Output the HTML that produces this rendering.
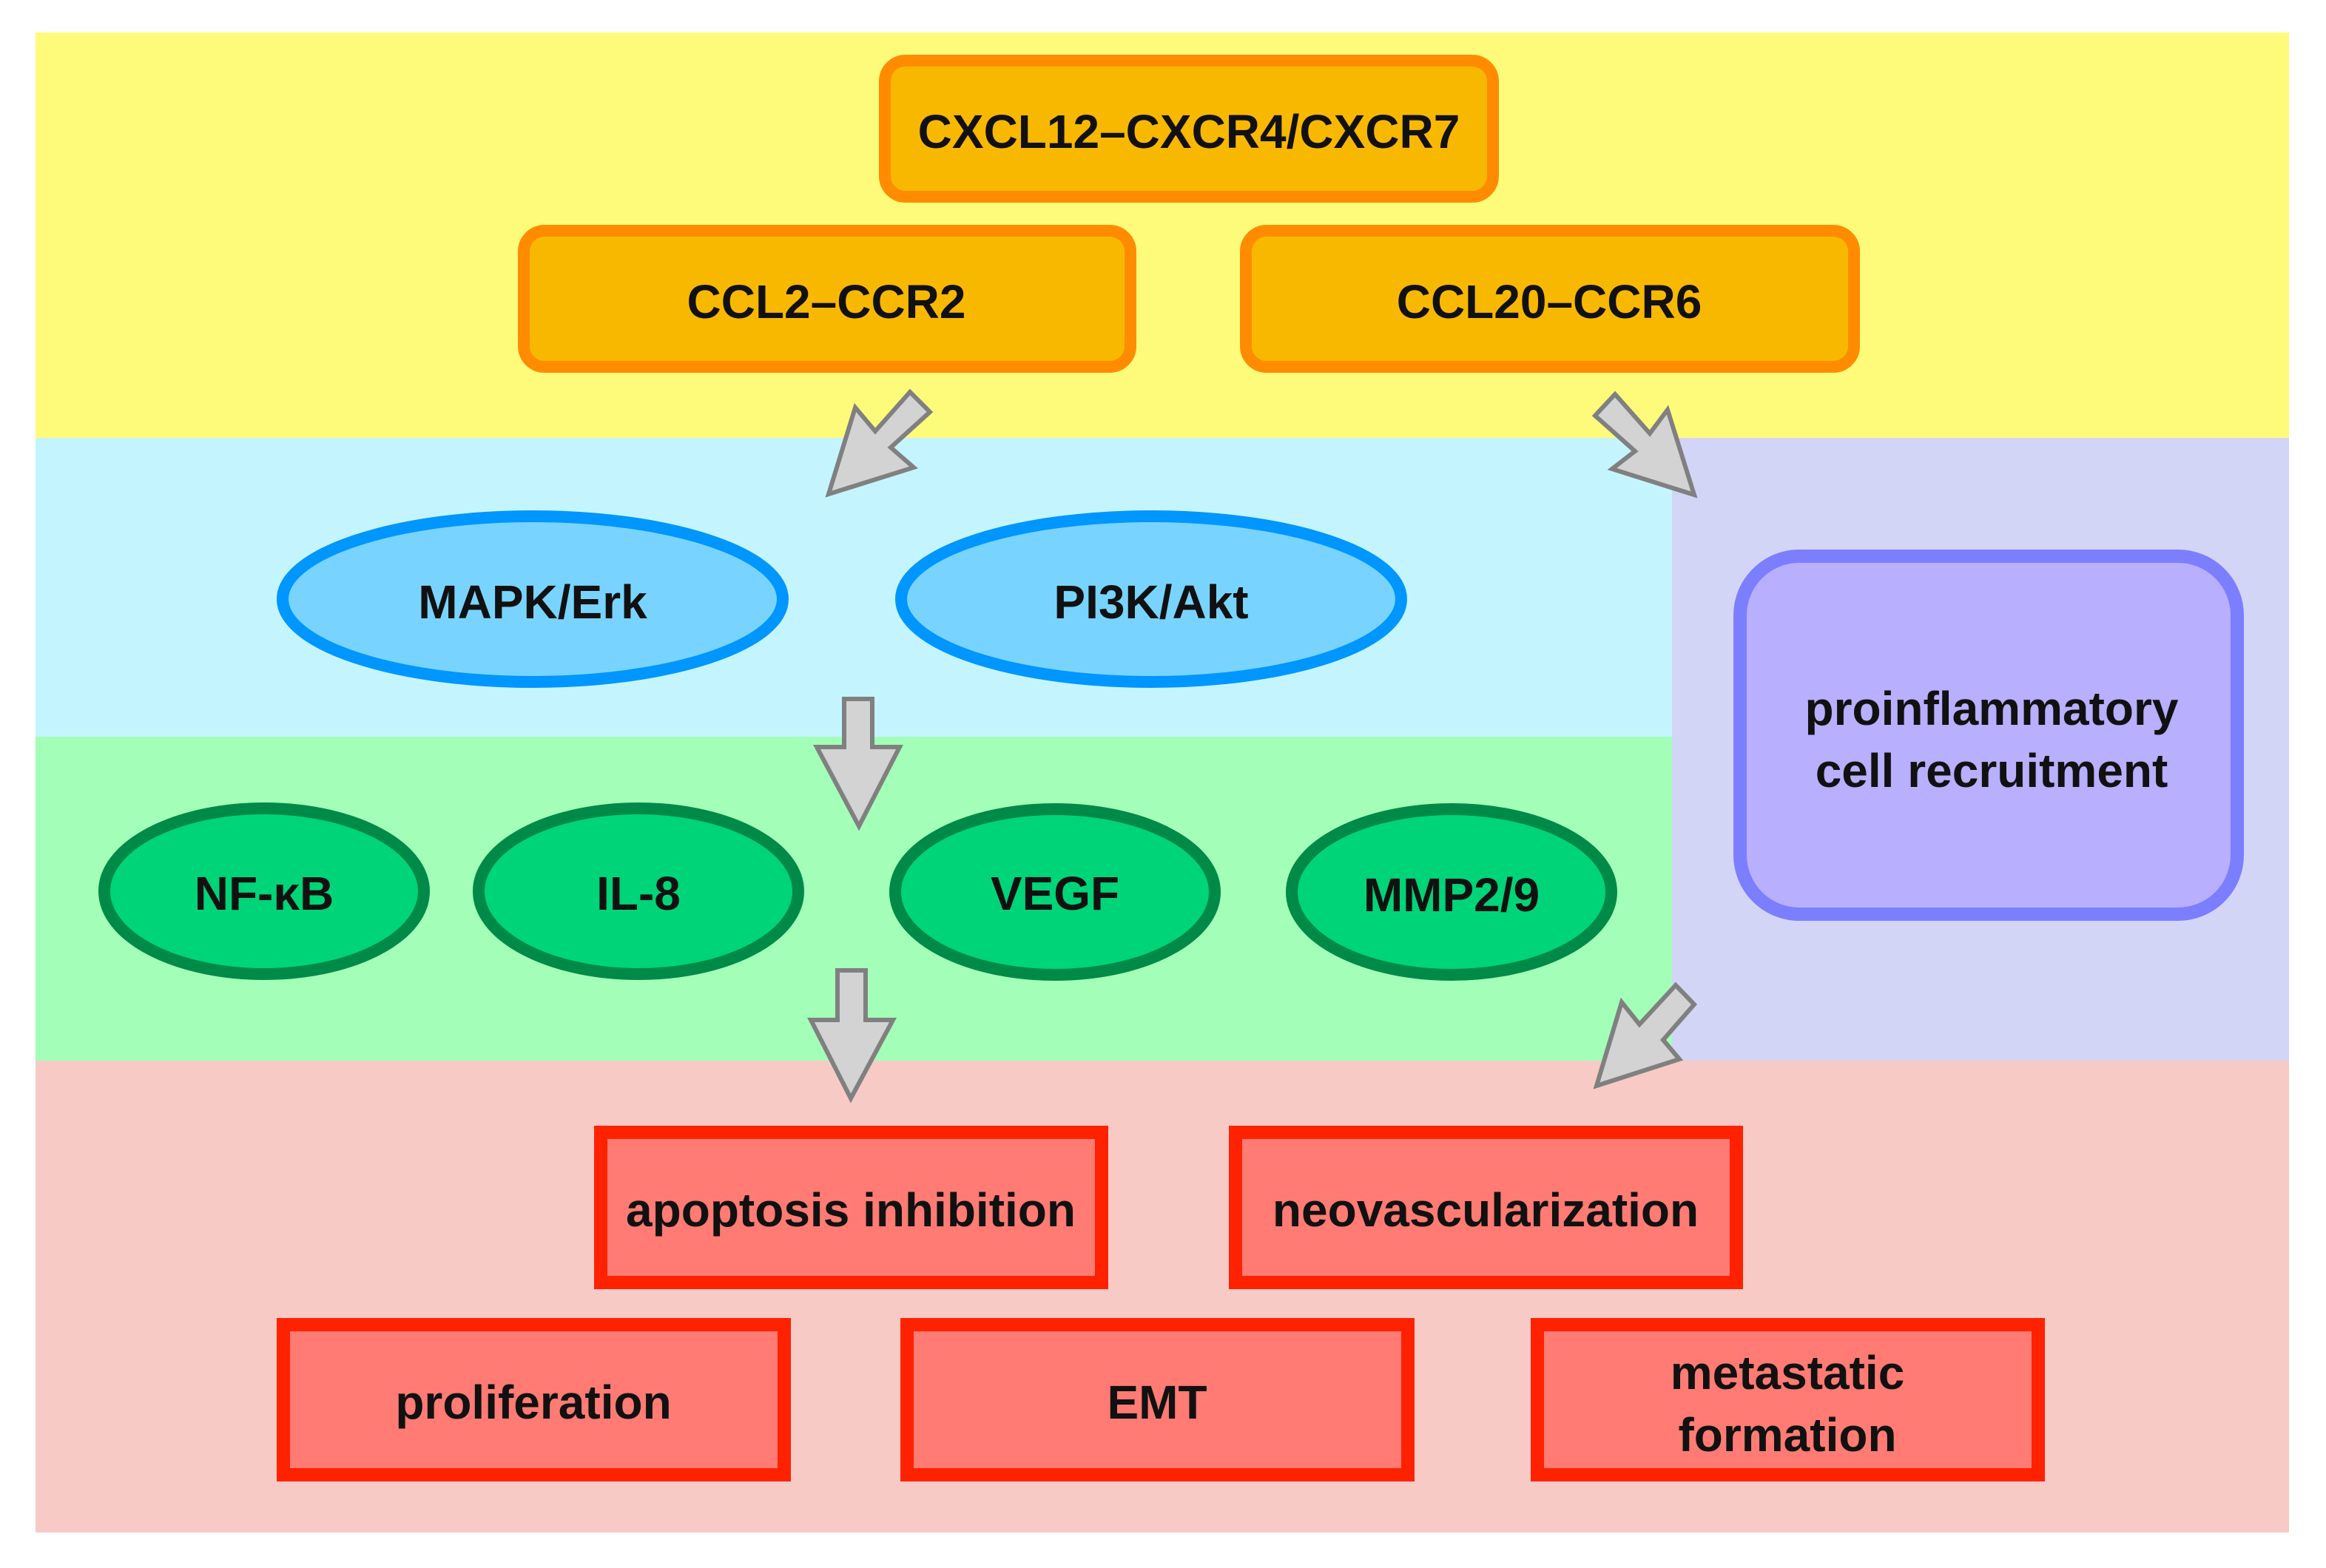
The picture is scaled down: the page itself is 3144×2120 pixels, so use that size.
<!DOCTYPE html>
<html><head><meta charset="utf-8"><style>
html,body{margin:0;padding:0;background:#fff}
svg{display:block}
text{font-family:"Liberation Sans",sans-serif;font-weight:bold;font-size:64px;fill:#111;text-anchor:middle;dominant-baseline:central}
</style></head><body>
<svg width="3144" height="2120" viewBox="0 0 3144 2120" xmlns="http://www.w3.org/2000/svg">
<rect x="48" y="44" width="3046" height="548" fill="#FFFB7A"/>
<rect x="48" y="592" width="2212" height="404" fill="#C4F5FF"/>
<rect x="48" y="996" width="2212" height="438" fill="#A3FFB8"/>
<rect x="2260" y="592" width="834" height="842" fill="#D3D5F7"/>
<rect x="48" y="1434" width="3046" height="638" fill="#F7CAC6"/>

<g fill="#F9B800" stroke="#FF8C00" stroke-width="16">
<rect x="1196" y="82" width="822" height="184" rx="28"/>
<rect x="708" y="312" width="820" height="184" rx="28"/>
<rect x="1684" y="312" width="822" height="184" rx="28"/>
</g>
<text x="1607" y="178">CXCL12–CXCR4/CXCR7</text>
<text x="1117" y="408">CCL2–CCR2</text>
<text x="2094" y="408">CCL20–CCR6</text>

<g fill="#78D4FF" stroke="#0096FF" stroke-width="16">
<ellipse cx="720" cy="810" rx="338" ry="112"/>
<ellipse cx="1556" cy="810" rx="338" ry="112"/>
</g>
<text x="720" y="814">MAPK/Erk</text>
<text x="1556" y="814">PI3K/Akt</text>

<g fill="#00D478" stroke="#008A48" stroke-width="16">
<ellipse cx="357" cy="1205" rx="216" ry="112"/>
<ellipse cx="863" cy="1205" rx="216" ry="112"/>
<ellipse cx="1426" cy="1206" rx="216" ry="112"/>
<ellipse cx="1962" cy="1206" rx="216" ry="112"/>
</g>
<text x="357" y="1208">NF-κB</text>
<text x="863" y="1208">IL-8</text>
<text x="1426" y="1208">VEGF</text>
<text x="1962" y="1210">MMP2/9</text>

<rect x="2352" y="752" width="672" height="484" rx="80" fill="#B8AFFF" stroke="#7B7FFF" stroke-width="18"/>
<text x="2692" y="958">proinflammatory</text>
<text x="2692" y="1042">cell recruitment</text>

<g fill="#FF7B73" stroke="#FF2200" stroke-width="18">
<rect x="812" y="1531" width="677" height="203"/>
<rect x="1670" y="1531" width="677" height="203"/>
<rect x="383" y="1791" width="677" height="203"/>
<rect x="1226" y="1791" width="677" height="203"/>
<rect x="2078" y="1791" width="677" height="203"/>
</g>
<text x="1150" y="1636">apoptosis inhibition</text>
<text x="2008" y="1636">neovascularization</text>
<text x="721" y="1896">proliferation</text>
<text x="1564" y="1896">EMT</text>
<text x="2416" y="1856">metastatic</text>
<text x="2416" y="1940">formation</text>

<g fill="#D3D3D3" stroke="#808080" stroke-width="6" stroke-linejoin="miter">
<polygon points="1120,668 1156,551 1183,583 1230,530 1257,557 1204,605 1235,632"/>
<polygon points="2290,669 2254,554 2230,586 2183,533 2156,562 2210,610 2179,634"/>
<polygon points="1141,945 1179,945 1179,1010 1216,1010 1161,1117 1104,1010 1141,1010"/>
<polygon points="1132,1312 1170,1312 1170,1379 1207,1379 1150,1485 1096,1379 1132,1379"/>
<polygon points="2158,1468 2192,1355 2216,1385 2265,1332 2290,1358 2248,1406 2270,1432"/>
</g>
</svg>
</body></html>
